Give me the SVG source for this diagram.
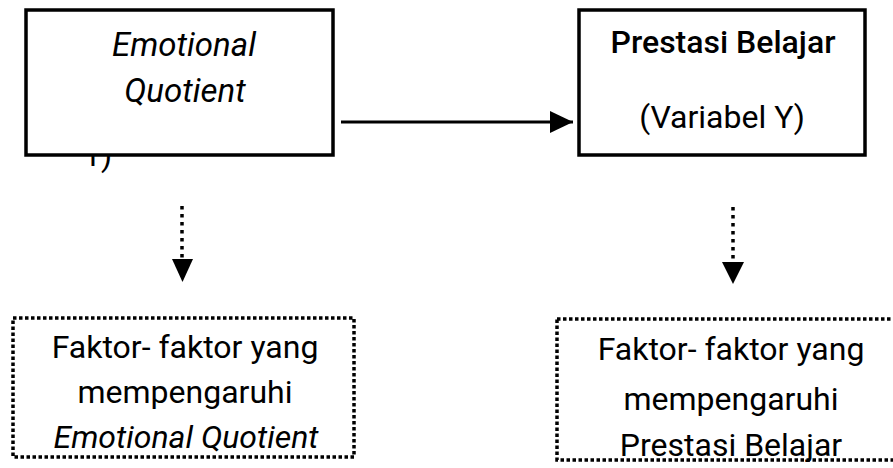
<svg xmlns="http://www.w3.org/2000/svg" width="893" height="468" viewBox="0 0 893 468">
<style>
  text { font-family: Roboto, "Liberation Sans", sans-serif; font-size: 32px; fill: #000; text-anchor: middle; }
  .it { font-style: italic; }
  .big { font-size: 33px; }
  .md { font-weight: 500; }
  .solid { fill: #fff; stroke: #000; stroke-width: 3.5; }
  .dotted { fill: #fff; stroke: #000; stroke-width: 3.5; stroke-dasharray: 3.5 2.5; }
  .conn { stroke: #000; stroke-width: 3; fill: none; }
  .dconn { stroke: #000; stroke-width: 3.5; stroke-dasharray: 3.5 4.5; fill: none; }
</style>
<defs>
  <marker id="ah" markerUnits="userSpaceOnUse" markerWidth="24" markerHeight="22" refX="23" refY="11" orient="auto">
    <path d="M0,0 L23,11 L0,22 Z" fill="#000"/>
  </marker>
</defs>
<text x="83" y="166" style="text-anchor:start">1)</text>
<g id="node-eq">
  <rect class="solid" x="26" y="10" width="307" height="145"/>
  <text class="it big" x="184" y="56">Emotional</text>
  <text class="it big" x="185" y="102">Quotient</text>
</g>
<g id="node-pb">
  <rect class="solid" x="579" y="10" width="286" height="145"/>
  <text class="md" x="723" y="53">Prestasi Belajar</text>
  <text x="722" y="128">(Variabel Y)</text>
</g>
<g id="node-f1">
  <rect class="dotted" x="13" y="318" width="341" height="139"/>
  <text x="185" y="358">Faktor- faktor yang</text>
  <text x="185" y="403">mempengaruhi</text>
  <text class="it" x="186" y="448">Emotional Quotient</text>
</g>
<g id="node-f2">
  <rect class="dotted" x="557" y="319" width="350" height="141"/>
  <text x="731" y="360">Faktor- faktor yang</text>
  <text x="731" y="410">mempengaruhi</text>
  <text x="731" y="456">Prestasi Belajar</text>
</g>
<g id="connectors">
  <line class="conn" x1="341" y1="122" x2="573" y2="122" marker-end="url(#ah)"/>
  <line class="dconn" x1="182" y1="206" x2="182" y2="258"/>
  <path d="M172,259 L193,259 L182.5,282 Z" fill="#000"/>
  <line class="dconn" x1="733" y1="207" x2="733" y2="261"/>
  <path d="M722,262 L744,262 L733,284 Z" fill="#000"/>
</g>
</svg>
